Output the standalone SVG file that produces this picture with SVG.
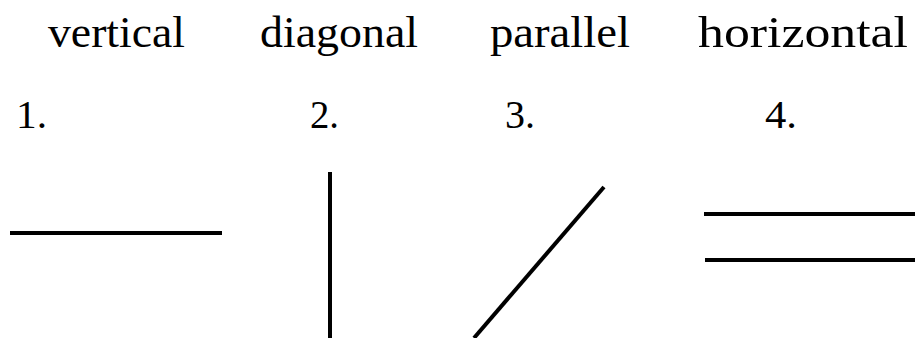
<svg xmlns="http://www.w3.org/2000/svg" width="915" height="338" viewBox="0 0 915 338">
<style>
.t{font-family:"Liberation Serif","Times New Roman",serif;font-size:45px;fill:#000}
.n{font-family:"Liberation Serif","Times New Roman",serif;font-size:39px;fill:#000}
.l{stroke:#000;stroke-width:4;fill:none;stroke-linecap:butt}
</style>
<rect width="915" height="338" fill="#fff"/>
<g id="labels">
<text class="t" x="48" y="47" textLength="137" lengthAdjust="spacingAndGlyphs">vertical</text>
<text class="t" x="260" y="47" textLength="158" lengthAdjust="spacingAndGlyphs">diagonal</text>
<text class="t" x="490" y="47" textLength="140" lengthAdjust="spacingAndGlyphs">parallel</text>
<text class="t" x="698" y="47" textLength="210" lengthAdjust="spacingAndGlyphs">horizontal</text>
</g>
<g id="numbers">
<text class="n" x="16" y="128" textLength="31" lengthAdjust="spacingAndGlyphs">1.</text>
<text class="n" x="310" y="128" textLength="29" lengthAdjust="spacingAndGlyphs">2.</text>
<text class="n" x="505" y="128" textLength="30" lengthAdjust="spacingAndGlyphs">3.</text>
<text class="n" x="765" y="128" textLength="32" lengthAdjust="spacingAndGlyphs">4.</text>
</g>
<g id="lines">
<line class="l" x1="10" y1="233" x2="222" y2="233"/>
<line class="l" x1="330" y1="172" x2="330" y2="338"/>
<line class="l" x1="604" y1="187" x2="474" y2="338"/>
<line class="l" x1="704" y1="214" x2="915" y2="214"/>
<line class="l" x1="705" y1="260" x2="915" y2="260"/>
</g>
</svg>
